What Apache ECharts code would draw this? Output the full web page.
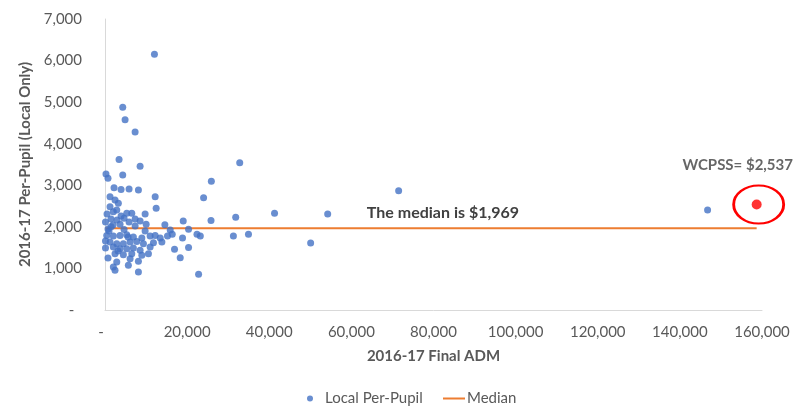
<!DOCTYPE html>
<html><head><meta charset="utf-8">
<script src="https://cdn.jsdelivr.net/npm/echarts@6.0.0/dist/echarts.min.js"></script>
<style>html,body{margin:0;padding:0;background:#fff}#c{width:801px;height:412px}</style>
</head><body><div id="c"></div>
<script>
// 2016-17 Final ADM for each district
const adm = [12040,4320,4890,7330,3420,8550,240,730,4320,2200,3910,5860,8140,12220,1220,2440,3250,12460,1220,2030,
  2860,5300,6520,9770,490,3910,1470,2930,4640,7330,120,5860,8550,1950,3660,730,14580,19050,24010,25900,
  32810,25820,31830,20350,22400,23210,31270,34940,16370,15220,18880,13850,20350,16930,18320,22790,41290,54230,50080,71510,
  146750,420,2030,3660,5300,6910,8970,10990,12220,13440,1220,2860,4470,6110,7740,9360,11800,2030,3660,5300,
  6910,8550,10990,2440,4470,6520,8970,10580,2860,6110,8140,2030,2440,5690,8140,980,4640,7330,10020,120,
  120,1470,5620,3180,730,9770,15880];
// 2016-17 Per-Pupil (Local Only)
const perPupil = [6150,4880,4575,4280,3620,3460,3270,3170,3245,2940,2900,2910,2885,2725,2725,2645,2565,2445,2485,2365,
  2405,2325,2325,2310,2310,2260,2190,2165,2210,2190,2115,2115,2140,2045,2065,1950,2050,2140,2700,3095,
  3540,2155,2230,1940,1825,1780,1780,1820,1820,1780,1730,1635,1505,1460,1255,860,2330,2310,1610,2870,
  2405,1795,1780,1795,1810,1755,1730,1780,1795,1730,1635,1595,1595,1635,1650,1595,1620,1515,1475,1475,
  1490,1435,1515,1355,1330,1355,1315,1355,1155,1235,1170,1035,955,1075,915,1900,1935,2020,2065,1660,
  1490,2005,1755,1420,1250,1900,1925];
const wcpssAdm = 158700;
const wcpssValue = 2537;
const medianValue = 1969;
const medianRange = [120, 158700];
const medianLabelAt = 82300;
const xTicks = [0,20000,40000,60000,80000,100000,120000,140000,160000];
const yTicks = [0,1000,2000,3000,4000,5000,6000,7000];

const fmt = v => v.toLocaleString('en-US');
const F = 'Lato';
const chart = echarts.init(document.getElementById('c'), null, {renderer:'canvas'});
chart.setOption({
  animation: false,
  backgroundColor: '#fff',
  textStyle: {fontFamily: F},
  grid: {left: 105, right: 39, top: 19, bottom: 102},
  xAxis: {
    type: 'value', min: xTicks[0], max: xTicks[xTicks.length-1], interval: xTicks[1]-xTicks[0],
    axisLine: {show: true, lineStyle: {color: '#d9d9d9', width: 1}},
    axisTick: {show: false}, splitLine: {show: false},
    axisLabel: {color: '#595959', fontSize: 15, fontFamily: F, margin: 15, formatter: v => v === 0 ? '-  ' : fmt(v)},
    name: '2016-17 Final ADM', nameLocation: 'middle', nameGap: 39,
    nameTextStyle: {color: '#595959', fontSize: 15, fontWeight: 'bold', fontFamily: F}
  },
  yAxis: {
    type: 'value', min: yTicks[0], max: yTicks[yTicks.length-1], interval: yTicks[1]-yTicks[0],
    axisLine: {show: true, lineStyle: {color: '#d9d9d9', width: 1}},
    axisTick: {show: false}, splitLine: {show: false},
    axisLabel: {color: '#595959', fontSize: 15, fontFamily: F, margin: 23, formatter: v => v === 0 ? '-  ' : fmt(v)},
    name: '2016-17 Per-Pupil (Local Only)', nameLocation: 'middle', nameGap: 65, nameRotate: 90,
    nameTextStyle: {color: '#595959', fontSize: 15, fontWeight: 'bold', fontFamily: F}
  },
  legend: [
    {data: [{name: 'Local Per-Pupil', icon: 'circle'}], left: 302, top: 386, itemWidth: 10, itemHeight: 6,
     textStyle: {color: '#595959', fontSize: 15, fontFamily: F, padding: [0,0,0,5]}},
    {data: [{name: 'Median', icon: 'rect'}], left: 438, top: 386, itemWidth: 22, itemHeight: 2,
     textStyle: {color: '#595959', fontSize: 15, fontFamily: F, padding: [0,0,0,-3]}}
  ],
  series: [
    {
      name: 'Local Per-Pupil', type: 'scatter', symbolSize: 7,
      itemStyle: {color: '#4472C4'},
      data: adm.map((x, i) => [x, perPupil[i]]), z: 3
    },
    {
      name: 'Median', type: 'line', symbol: 'none',
      lineStyle: {color: '#ED7D31', width: 2}, itemStyle: {color: '#ED7D31'},
      data: medianRange.map(x => [x, medianValue]), z: 2,
      markPoint: {
        symbol: 'circle', symbolSize: 0,
        label: {show: true, formatter: 'The median is $' + fmt(medianValue),
          color: '#404040', fontSize: 16, fontWeight: 'bold', fontFamily: F, offset: [0, -15]},
        data: [{coord: [medianLabelAt, medianValue]}]
      }
    },
    {
      name: 'WCPSS', type: 'scatter', symbolSize: 10,
      itemStyle: {color: '#FF0000'}, z: 4,
      label: {show: true, position: 'top', distance: 27, offset: [-19, 0],
        formatter: 'WCPSS= $' + fmt(wcpssValue),
        color: '#404040', fontSize: 15, fontWeight: 'bold', fontFamily: F},
      data: [[wcpssAdm, wcpssValue]],
      markPoint: {
        symbol: 'circle', symbolSize: [50, 38], symbolOffset: [2, 0],
        itemStyle: {color: 'rgba(0,0,0,0)', borderColor: '#FF0000', borderWidth: 2.5},
        label: {show: false},
        data: [{coord: [wcpssAdm, wcpssValue]}]
      }
    }
  ]
});
</script></body></html>
